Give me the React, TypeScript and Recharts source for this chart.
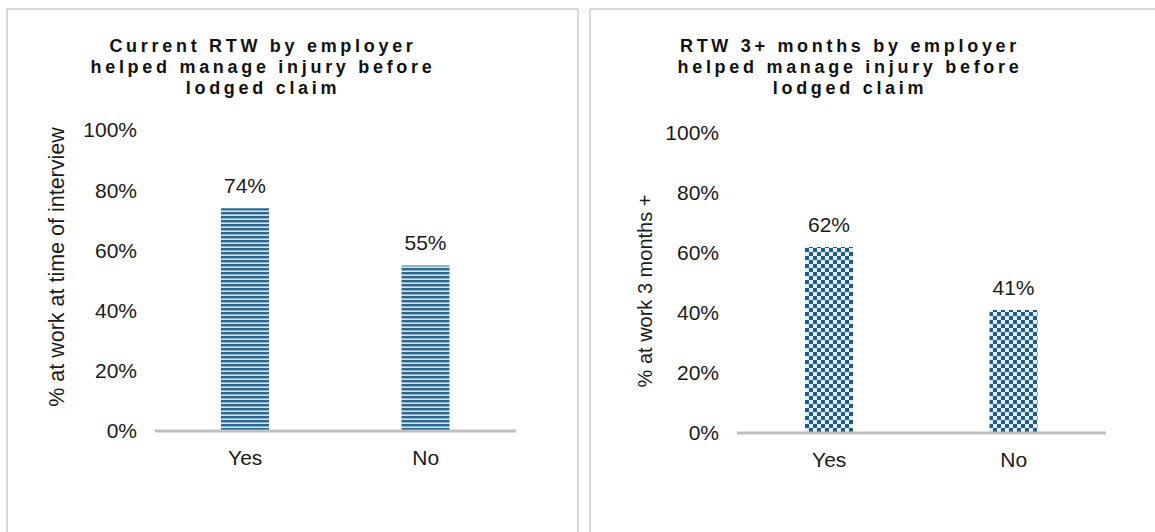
import { BarChart, Bar, XAxis, YAxis, LabelList } from 'recharts';

const categories = ['Yes', 'No'];
const currentRtw = [74, 55];
const rtw3Months = [62, 41];
const yTicks = [0, 20, 40, 60, 80, 100];

const leftData = categories.map((name, i) => ({ name, value: currentRtw[i] }));
const rightData = categories.map((name, i) => ({ name, value: rtw3Months[i] }));

const FONT = '"Liberation Sans", Arial, sans-serif';
const tickStyle = { fill: '#1a1a1a', fontSize: 21, fontFamily: FONT };

function Panel({
  left,
  width,
  title,
  titleCenter,
  yLabel,
  yLabelSize,
  data,
  fill,
  plotLeft,
  plotRight,
  plotTop,
  plotBottom,
  labelY,
}: any) {
  return (
    <>
      <div
        style={{
          position: 'absolute',
          left,
          top: 8,
          width,
          height: 540,
          border: '2px solid #d9d9d9',
          boxSizing: 'border-box',
        }}
      />
      <div
        style={{
          position: 'absolute',
          left: titleCenter - 250,
          top: 36,
          width: 500,
          textAlign: 'center',
          fontFamily: FONT,
          fontWeight: 'bold',
          fontSize: 18,
          letterSpacing: 3.7,
          lineHeight: '21px',
          color: '#111',
        }}
      >
        {title.map((line: string) => (
          <div key={line}>{line}</div>
        ))}
      </div>
      <div style={{ position: 'absolute', left, top: 0 }}>
        <BarChart
          width={width}
          height={520}
          data={data}
          margin={{ top: plotTop, right: width - plotRight, left: plotLeft - 70, bottom: 520 - plotBottom - 40 }}
        >
          <defs>
            <pattern id="stripes" width="6" height="4" patternUnits="userSpaceOnUse">
              <rect width="6" height="4" fill="#2a6894" />
              <rect y="2.4" width="6" height="1.6" fill="#d3e4ef" />
            </pattern>
            <pattern id="checks" width="8" height="8" patternUnits="userSpaceOnUse">
              <rect width="8" height="8" fill="#e6eef5" />
              <rect width="4" height="4" fill="#1f5d88" />
              <rect x="4" y="4" width="4" height="4" fill="#1f5d88" />
            </pattern>
          </defs>
          <XAxis
            dataKey="name"
            height={40}
            axisLine={{ stroke: '#bfbfbf', strokeWidth: 3 }}
            tickLine={false}
            tickMargin={13}
            tick={tickStyle}
          />
          <YAxis
            width={70}
            domain={[0, 100]}
            ticks={yTicks}
            interval={0}
            tickFormatter={(v: number) => `${v}%`}
            axisLine={false}
            tickLine={false}
            tickMargin={12}
            tick={tickStyle}
          />
          <Bar dataKey="value" fill={fill} barSize={48} isAnimationActive={false}>
            <LabelList
              dataKey="value"
              position="top"
              offset={15}
              formatter={(v: any) => `${v}%`}
              style={{ fill: '#1a1a1a', fontSize: 21, fontFamily: FONT }}
            />
          </Bar>
        </BarChart>
      </div>
      <div
        style={{
          position: 'absolute',
          left: labelY.x - 200,
          top: labelY.y - 12,
          width: 400,
          height: 24,
          lineHeight: '24px',
          textAlign: 'center',
          transform: 'rotate(-90deg)',
          fontFamily: FONT,
          fontSize: yLabelSize,
          color: '#1a1a1a',
          whiteSpace: 'nowrap',
        }}
      >
        {yLabel}
      </div>
    </>
  );
}

export default function App() {
  return (
    <div
      style={{
        position: 'absolute',
        left: 0,
        top: 0,
        width: 1155,
        height: 532,
        overflow: 'hidden',
        background: '#fff',
      }}
    >
      <Panel
        left={6}
        width={573}
        title={['Current RTW by employer', 'helped manage injury before', 'lodged claim']}
        titleCenter={263}
        yLabel="% at work at time of interview"
        yLabelSize={21.5}
        data={leftData}
        fill="url(#stripes)"
        plotLeft={149}
        plotRight={510}
        plotTop={130}
        plotBottom={431}
        labelY={{ x: 57, y: 267 }}
      />
      <Panel
        left={589}
        width={570}
        title={['RTW 3+ months by employer', 'helped manage injury before', 'lodged claim']}
        titleCenter={850}
        yLabel="% at work 3 months +"
        yLabelSize={20}
        data={rightData}
        fill="url(#checks)"
        plotLeft={148}
        plotRight={517}
        plotTop={133}
        plotBottom={433}
        labelY={{ x: 645, y: 291 }}
      />
    </div>
  );
}
